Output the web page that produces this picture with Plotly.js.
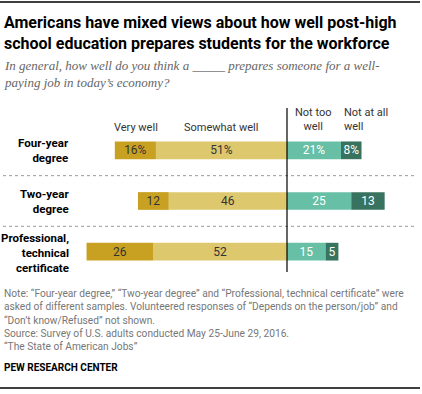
<!DOCTYPE html>
<html><head><meta charset="utf-8">
<script src="https://cdn.plot.ly/plotly-3.0.1.min.js"></script>
<style>html,body{margin:0;padding:0;background:#fff}#chart{width:422px;height:394px}</style>
</head><body><div id="chart"></div>
<script>
const categories = ["Four-year degree", "Two-year degree", "Professional, technical certificate"];
const rowLabels = ["Four-year<br>degree", "Two-year<br>degree", "Professional,<br>technical<br>certificate"];
const veryWell = [16, 12, 26];
const somewhatWell = [51, 46, 52];
const notTooWell = [21, 25, 15];
const notAtAllWell = [8, 13, 5];
const seriesNames = ["Very well", "Somewhat well", "Not too<br>well", "Not at all<br>well"];

const W = 422, H = 394;
const L = 80, R = 20, T = 125, B = 117;
const pw = W - L - R, ph = H - T - B;
const px = x => (x - L) / pw;
const py = y => (H - B - y) / ph;

function lab(vals) { return vals.map((v, k) => k === 0 ? v + "%" : String(v)); }
const font = "Roboto, 'Liberation Sans', Arial, sans-serif";

function bar(vals, sign, color, txtColor) {
  return {
    type: "bar", orientation: "h", y: categories, x: vals.map(v => sign * v),
    text: lab(vals), textposition: "inside", insidetextanchor: "middle", textangle: 0,
    textfont: {family: font, size: 12, color: txtColor}, constraintext: "none",
    marker: {color: color, line: {width: 0}}, hoverinfo: "skip", showlegend: false
  };
}

const data = [
  bar(somewhatWell, -1, "#DEC86E", "#333333"),
  bar(veryWell, -1, "#C9A122", "#333333"),
  bar(notTooWell, 1, "#67BFA5", "#ffffff"),
  bar(notAtAllWell, 1, "#38735F", "#ffffff")
];

const ann = [];
const rowY = [150.7, 201, 252.7];
rowLabels.forEach((t, i) => ann.push({xref: "paper", yref: "paper", x: px(71), y: py(rowY[i]), xanchor: "right", yanchor: "middle",
  text: "<b>" + t + "</b>", showarrow: false, align: "right", font: {family: font, size: 11.5, color: "#000"}}));
ann.push({xref: "paper", yref: "paper", x: px(136), y: py(127), xanchor: "center", yanchor: "middle", text: seriesNames[0], showarrow: false, font: {family: font, size: 11, color: "#333"}});
ann.push({xref: "paper", yref: "paper", x: px(221), y: py(127), xanchor: "center", yanchor: "middle", text: seriesNames[1], showarrow: false, font: {family: font, size: 11, color: "#333"}});
ann.push({xref: "paper", yref: "paper", x: px(313.5), y: py(119.5), xanchor: "center", yanchor: "middle", text: seriesNames[2], showarrow: false, align: "center", font: {family: font, size: 11, color: "#333"}});
ann.push({xref: "paper", yref: "paper", x: px(342), y: py(119.5), xanchor: "left", yanchor: "middle", text: seriesNames[3], showarrow: false, align: "left", font: {family: font, size: 11, color: "#333"}});
ann.push({xref: "paper", yref: "paper", x: px(2), y: py(74), xanchor: "left", yanchor: "middle", align: "left", showarrow: false,
  text: "<i>In general, how well do you think a _____ prepares someone for a well-<br>paying job in today’s economy?</i>",
  font: {family: "'Liberation Serif', 'DejaVu Serif', serif", size: 13, color: "#666"}});
ann.push({xref: "paper", yref: "paper", x: px(2), y: py(320), xanchor: "left", yanchor: "middle", align: "left", showarrow: false,
  text: "Note: “Four-year degree,” “Two-year degree” and “Professional, technical certificate” were<br>asked of different samples. Volunteered responses of “Depends on the person/job” and<br>“Don’t know/Refused” not shown.<br>Source: Survey of U.S. adults conducted May 25-June 29, 2016.<br>“The State of American Jobs”",
  font: {family: font, size: 10.2, color: "#777"}});
ann.push({xref: "paper", yref: "paper", x: px(2), y: py(367), xanchor: "left", yanchor: "middle", align: "left", showarrow: false,
  text: "<b>PEW RESEARCH CENTER</b>", font: {family: font, size: 10, color: "#000"}});
ann.push({xref: "paper", yref: "paper", x: px(2), y: py(32.5), xanchor: "left", yanchor: "middle", align: "left", showarrow: false,
  text: "<b>Americans have mixed views about how well post-high<br>school education prepares students for the workforce</b>",
  font: {family: font, size: 16, color: "#000"}});

const shapes = [
  {type: "line", xref: "paper", yref: "paper", x0: px(0), x1: px(420), y0: py(2), y1: py(2), line: {color: "#000", width: 1.5}},
  {type: "line", xref: "paper", yref: "paper", x0: px(0), x1: px(420), y0: py(388), y1: py(388), line: {color: "#000", width: 1.5}},
  {type: "line", xref: "paper", yref: "y", x0: px(3), x1: px(415), y0: 0.5, y1: 0.5, line: {color: "#999", width: 1, dash: "dot"}},
  {type: "line", xref: "paper", yref: "y", x0: px(3), x1: px(415), y0: 1.5, y1: 1.5, line: {color: "#999", width: 1, dash: "dot"}},
  {type: "line", xref: "x", yref: "paper", x0: 0, x1: 0, y0: py(108), y1: py(272), line: {color: "#000", width: 1.2}}
];

const layout = {
  width: W, height: H, margin: {l: L, r: R, t: T, b: B},
  paper_bgcolor: "#fff", plot_bgcolor: "#fff",
  barmode: "relative", bargap: 0.65,
  xaxis: {range: [(L - 287) / 2.57, (W - R - 287) / 2.57], visible: false, fixedrange: true},
  yaxis: {type: "category", categoryarray: categories, range: [2.5, -0.5], visible: false, fixedrange: true},
  annotations: ann, shapes: shapes, showlegend: false
};
Plotly.newPlot("chart", data, layout, {displayModeBar: false, staticPlot: true});
</script></body></html>
